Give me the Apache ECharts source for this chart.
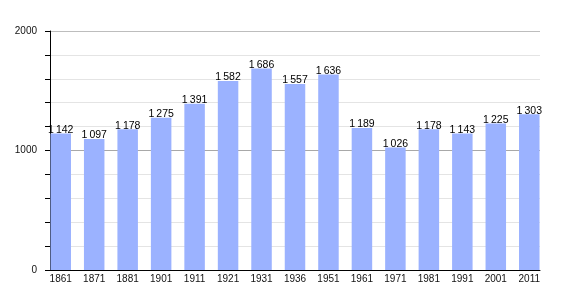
<!DOCTYPE html>
<html>
<head>
<meta charset="utf-8">
<script src="https://cdn.jsdelivr.net/npm/echarts@6/dist/echarts.min.js"></script>
<style>html,body{margin:0;padding:0;background:#fff}#c{width:570px;height:300px}</style>
</head>
<body>
<div id="c"></div>
<script>
var years = ['1861','1871','1881','1901','1911','1921','1931','1936','1951','1961','1971','1981','1991','2001','2011'];
var population = [1142,1097,1178,1275,1391,1582,1686,1557,1636,1189,1026,1178,1143,1225,1303];
var yTickLabels = [0,1000,2000];

function fmt(v){ var s=String(v); return s.length>3 ? s.slice(0,s.length-3)+'\u2009'+s.slice(-3) : s; }

var font = 'Liberation Sans, Arial, sans-serif';
var gridColors = ['#e4e4e4','#e4e4e4','#e4e4e4','#e4e4e4','#e4e4e4','#a8a8a8','#e4e4e4','#e4e4e4','#e4e4e4','#e4e4e4','#bdbdbd'];

var chart = echarts.init(document.getElementById('c'), null, {renderer:'canvas'});
chart.setOption({
  animation:false,
  backgroundColor:'#fff',
  grid:[
    {left:44, right:24, top:31, bottom:30},
    {left:50, right:30, top:31, bottom:30}
  ],
  xAxis:[
    {type:'category', gridIndex:0, data:years, boundaryGap:true,
     axisLine:{show:false}, axisTick:{show:false},
     axisLabel:{color:'#111', fontSize:10, fontFamily:font, margin:4, interval:0}},
    {type:'value', gridIndex:1, min:0, max:1,
     axisLine:{show:true, lineStyle:{color:'#000', width:1}}, axisTick:{show:false},
     axisLabel:{show:false}, splitLine:{show:false}}
  ],
  yAxis:[
    {type:'value', gridIndex:0, min:0, max:2000, show:false},
    {type:'value', gridIndex:1, min:0, max:2000, interval:200,
     axisLine:{show:true, lineStyle:{color:'#000', width:1}},
     axisTick:{show:true, inside:false, length:5, lineStyle:{color:'#000'}},
     axisLabel:{color:'#111', fontSize:10, fontFamily:font, margin:13,
       formatter:function(v){ return yTickLabels.indexOf(v)>=0 ? String(v) : ''; }},
     splitLine:{show:true, lineStyle:{color:gridColors, width:1}}}
  ],
  series:[{
    type:'bar', xAxisIndex:0, yAxisIndex:0, data:population, barWidth:20.5,
    itemStyle:{color:'#9bb2ff'},
    label:{show:true, position:'top', distance:-2, color:'#000', fontSize:10.5, fontFamily:font,
      formatter:function(p){ return fmt(p.value); }}
  }]
});
</script>
</body>
</html>
